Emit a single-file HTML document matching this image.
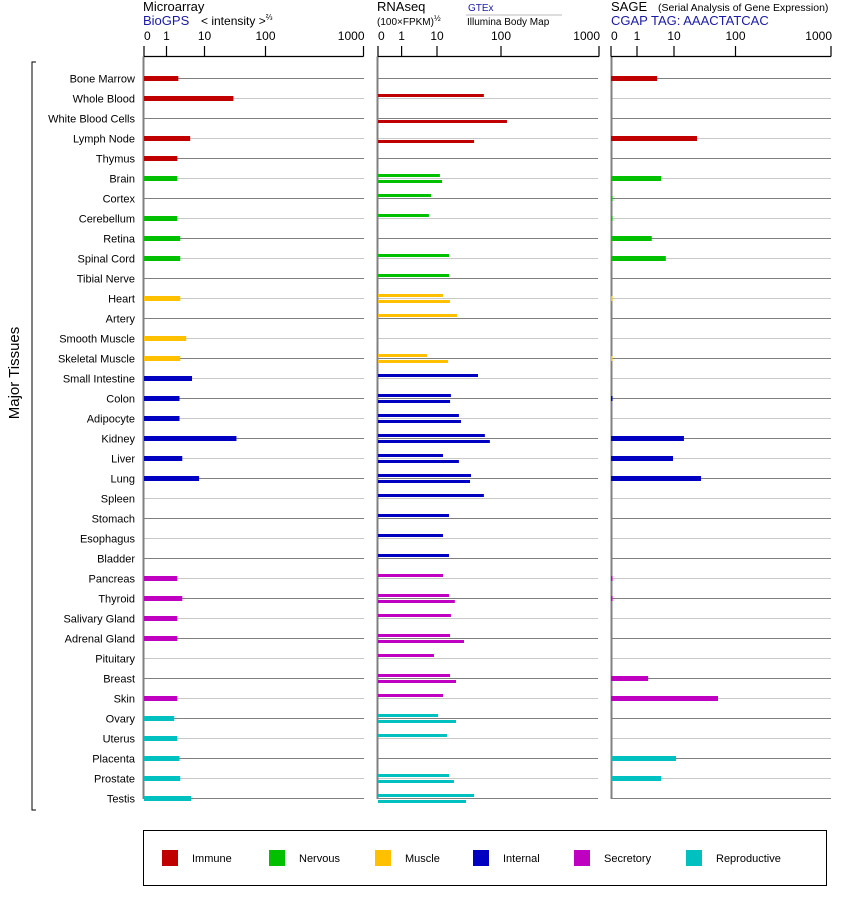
<!DOCTYPE html>
<html><head><meta charset="utf-8"><style>
body{margin:0;background:#fff;}
svg{display:block;font-family:"Liberation Sans",Arial,sans-serif;}
</style></head><body>
<svg id="chart" width="842" height="900">
<g id="headers">
<text x="143" y="11" font-size="13">Microarray</text>
<text x="143" y="25" font-size="13" fill="#1a1aa6">BioGPS</text>
<text x="201" y="25" font-size="12">&lt; intensity &gt;<tspan font-size="8" dy="-5">⅔</tspan></text>
<text x="377" y="11" font-size="13">RNAseq</text>
<text x="377" y="25" font-size="10">(100×FPKM)<tspan font-size="8" dy="-4">½</tspan></text>
<text x="468" y="11" font-size="10" fill="#1a1aa6">GTEx</text>
<line x1="466" y1="15" x2="562" y2="15" stroke="#bbb"/>
<text x="467" y="25" font-size="10">Illumina Body Map</text>
<text x="611" y="11" font-size="13">SAGE</text>
<text x="658" y="11" font-size="10.5">(Serial Analysis of Gene Expression)</text>
<text x="611" y="25" font-size="13" fill="#1a1aa6">CGAP TAG: AAACTATCAC</text>
</g>
<text transform="translate(19,373) rotate(-90)" text-anchor="middle" font-size="15">Major Tissues</text>
<path d="M36,62 H32 V810 H36" fill="none" stroke="#000"/>
<g id="plot"></g>
<rect x="143.5" y="830.5" width="683" height="55" fill="none" stroke="#000"/>
<g id="legend"></g>
</svg>
<script>
const tissues=["Bone Marrow","Whole Blood","White Blood Cells","Lymph Node","Thymus","Brain","Cortex","Cerebellum","Retina","Spinal Cord","Tibial Nerve","Heart","Artery","Smooth Muscle","Skeletal Muscle","Small Intestine","Colon","Adipocyte","Kidney","Liver","Lung","Spleen","Stomach","Esophagus","Bladder","Pancreas","Thyroid","Salivary Gland","Adrenal Gland","Pituitary","Breast","Skin","Ovary","Uterus","Placenta","Prostate","Testis"];
const groups=[0,0,0,0,0,1,1,1,1,1,1,2,2,2,2,3,3,3,3,3,3,3,3,3,3,4,4,4,4,4,4,4,5,5,5,5,5];
const groupNames=["Immune","Nervous","Muscle","Internal","Secretory","Reproductive"];
const groupColors=["#c00000","#00c000","#ffc000","#0000c0","#c000c0","#00c0c0"];
const microarray=[2.05,29.8,null,4.2,1.93,1.93,null,1.93,2.3,2.3,null,2.3,null,3.3,2.3,4.7,2.2,2.2,33.4,2.6,7.2,null,null,null,null,1.93,2.6,1.93,1.93,null,null,1.93,1.6,1.93,2.2,2.3,4.5];
const rnaGtex=[null,54,null,null,null,11.1,6.8,5.9,null,15.4,15.4,12.4,20.5,null,5.2,43.7,16.5,22,56,12.4,34,54,15.4,12.4,15.4,12.4,15.4,16.5,16,8.2,16,12.4,10.4,14.3,null,15.4,38];
const rnaIllumina=[null,null,115,38,null,12,null,null,null,null,null,16,null,null,14.9,null,16,23.7,67,22,32.8,null,null,null,null,null,19,null,26.4,null,19.8,null,19.8,null,null,18.4,28.4];
const sage=[3.5,null,null,23.7,null,4.5,0.06,0.06,2.5,6.0,null,0.06,null,null,0.06,null,0.06,null,14.5,9.4,27.5,null,null,null,null,0.06,0.06,null,null,null,2.0,51.9,null,null,10.8,4.5,null];
const tickValues=[0,1,10,100,1000];
const tickLabels=["0","1","10","100","1000"];

const NS="http://www.w3.org/2000/svg";
const plot=document.getElementById('plot');
function mk(tag,attrs,parent){const e=document.createElementNS(NS,tag);for(const k in attrs)e.setAttribute(k,attrs[k]);(parent||plot).appendChild(e);return e;}
function makeScale(px){return function(v){
  if(v<=1)return px[0]+(px[1]-px[0])*v;
  const l=Math.log10(v);const i=Math.min(Math.floor(l),2);
  return px[i+1]+(px[i+2]-px[i+1])*(l-i);};}
const panels=[
 {name:'microarray',px:[144,166.5,204.5,265.5,363.5],x0:143,x1:364},
 {name:'rnaseq',px:[378,401.6,437,501,599],x0:377,x1:598},
 {name:'sage',px:[611,637,674,735.5,831],x0:611,x1:831}];
panels.forEach(p=>p.scale=makeScale(p.px));
const rowY=i=>78.5+20*i;
const axisY=56.5;

// row labels and gridlines
tissues.forEach((t,i)=>{
  const tx=mk('text',{x:135,y:rowY(i)+4,'font-size':11,'text-anchor':'end'});
  tx.textContent=t;
  
  
  panels.forEach(p=>{
    const ln=mk('line',{x1:p.x0,x2:p.x1,y1:rowY(i),y2:rowY(i),stroke:i%2?'#c8c8c8':'#808080','stroke-width':1});
    
    
  });
});
// axes
panels.forEach(p=>{
  const v=mk('line',{x1:p.x0+0.5,x2:p.x0+0.5,y1:axisY,y2:rowY(tissues.length-1)+0.5,stroke:'#808080','stroke-width':2});
  
  
  const a=mk('line',{x1:p.px[0],x2:p.px[4],y1:axisY,y2:axisY,stroke:'#000','stroke-width':1.2});
  
  
  tickValues.forEach((tv,k)=>{
    const x=p.scale(tv);
    const tk=mk('line',{x1:x,x2:x,y1:axisY,y2:46,stroke:'#000','stroke-width':1.2});
    
    
    const lb=mk('text',{x:k==4?x+1:x,y:40,'font-size':12,'text-anchor':k==0?'start':(k==4?'end':'middle')});
    lb.textContent=tickLabels[k];
    
    
  });
});
// bars
function bar(p,v,y,h,i,name){
  if(v==null)return;
  const x0=p.px[0];const w=Math.max(p.scale(v)-x0,1.2);
  const r=mk('rect',{x:x0,y:y,width:w,height:h,fill:groupColors[groups[i]]});
  
  
}
tissues.forEach((t,i)=>{
  const c=rowY(i);
  bar(panels[0],microarray[i],c-2.5,5,i,'microarray');
  bar(panels[1],rnaGtex[i],c-4.5,3,i,'gtex');
  bar(panels[1],rnaIllumina[i],c+1.5,3,i,'illumina');
  bar(panels[2],sage[i],c-2.5,5,i,'sage');
});
// legend
const leg=document.getElementById('legend');
const legX=[162,269,375,473,574,686];
groupNames.forEach((g,k)=>{
  const s=mk('rect',{x:legX[k],y:850,width:16,height:16,fill:groupColors[k]},leg);
  
  
  const tx=mk('text',{x:legX[k]+30,y:862,'font-size':11},leg);
  tx.textContent=g;
  
  
});
</script>
</body></html>
